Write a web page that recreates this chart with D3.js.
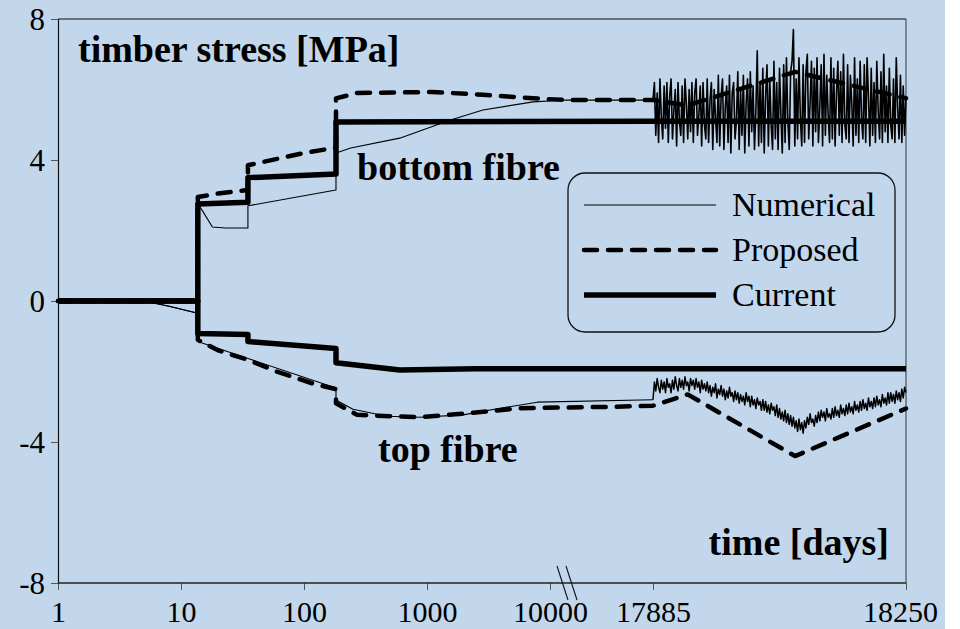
<!DOCTYPE html>
<html>
<head>
<meta charset="utf-8">
<script src="https://cdn.jsdelivr.net/npm/d3@7"></script>
<style>
  html, body { margin: 0; padding: 0; background: #fff; }
  svg { display: block; }
  text { font-family: "Liberation Serif", "Times New Roman", serif; fill: #000; }
</style>
</head>
<body>
<svg id="chart"></svg>
<script>
// ---- data (time in days, stress in MPa) ----
const yTicks = [-8, -4, 0, 4, 8];
const xTicksLog = [1, 10, 100, 1000, 10000];
const xTicksLin = [17885, 18250];

// current model
const curBotT = [1, 13.7, 13.7, 35, 35, 182, 182, 17885, 18250];
const curBot  = [0, 0, 2.75, 2.8, 3.5, 3.6, 5.08, 5.1, 5.1];
const curTopT = [1, 13.7, 13.7, 35, 35, 182, 182, 600, 2500, 17885, 18250];
const curTop  = [0, 0, -0.92, -0.95, -1.15, -1.35, -1.75, -1.96, -1.92, -1.92, -1.92];

// proposed model
const propBotT = [1, 13.7, 13.7, 20, 35, 35, 100, 182, 182, 270, 1100, 2850, 7300, 11300, 17885, 17935, 18090, 18250];
const propBot  = [0, 0, 2.95, 3.05, 3.15, 3.85, 4.2, 4.35, 5.75, 5.9, 5.93, 5.85, 5.75, 5.7, 5.7, 5.55, 6.5, 5.75];
const propTopT = [1, 13.7, 13.7, 20, 35, 60, 120, 182, 182, 270, 870, 2240, 5660, 15000, 17885, 17935, 18090, 18250];
const propTop  = [0, 0, -1.1, -1.4, -1.67, -2.0, -2.35, -2.5, -2.9, -3.23, -3.3, -3.18, -3.04, -3.0, -2.97, -2.65, -4.4, -3.05];

// numerical model, first part
const numBotT = [1, 2, 5, 8, 13.7, 13.7, 15, 18, 23, 35, 35, 182, 182, 240, 600, 1530, 2850, 7300, 11300, 17885];
const numBot  = [0.05, 0.03, 0, -0.15, -0.35, 2.75, 2.55, 2.1, 2.07, 2.07, 2.7, 3.15, 4.2, 4.34, 4.62, 5.13, 5.42, 5.65, 5.7, 5.7];
const numTopT = [1, 2, 5, 8, 13.7, 13.7, 35, 182, 182, 250, 473, 877, 1970, 4130, 7870, 17885];
const numTop  = [0.05, 0.03, 0, -0.15, -0.35, -1.15, -1.63, -2.47, -2.81, -3.07, -3.27, -3.3, -3.23, -3.03, -2.87, -2.8];

// numerical model, last year (daily cycles, every 2nd day from 17885 to 18250)
const numBotLast = [
  5.7, 6.2, 4.7, 5.9, 4.5, 6.3, 5.2, 4.6, 6.1, 4.9,
  6.2, 4.5, 5.8, 6.3, 4.6, 5.4, 6.0, 4.4, 6.2, 5.1,
  4.7, 6.1, 4.5, 6.3, 5.6, 4.6, 6.0, 4.8, 6.2, 4.5,
  5.9, 6.3, 4.7, 5.3, 6.1, 4.4, 6.2, 5.0, 4.6, 6.3,
  4.5, 5.7, 6.2, 4.3, 6.0, 5.2, 4.5, 6.4, 4.4, 5.8,
  6.3, 4.3, 5.5, 6.1, 4.5, 6.4, 4.2, 5.9, 6.2, 4.6,
  5.1, 6.5, 4.3, 6.0, 4.7, 6.4, 4.2, 5.6, 6.3, 4.4,
  6.5, 4.8, 6.1, 4.3, 5.4, 7.1, 4.4, 6.2, 4.5, 6.6,
  4.2, 5.8, 6.7, 4.4, 6.3, 5.0, 4.3, 6.8, 4.6, 6.2,
  4.3, 6.6, 5.3, 4.2, 6.7, 4.5, 6.9, 5.1, 4.3, 6.5,
  6.8, 7.7, 4.4, 6.3, 4.6, 6.9, 5.2, 4.4, 6.7, 4.5,
  6.5, 7.0, 4.6, 5.6, 6.8, 4.4, 6.6, 4.8, 6.9, 4.5,
  5.5, 6.7, 4.4, 7.0, 4.7, 6.4, 5.3, 4.5, 6.9, 4.6,
  6.6, 4.4, 5.9, 6.8, 4.7, 6.5, 4.5, 7.0, 5.0, 4.6,
  6.7, 4.5, 6.4, 5.6, 4.4, 6.9, 4.7, 6.3, 4.5, 6.8,
  5.2, 4.6, 6.7, 4.5, 6.9, 5.8, 4.4, 6.6, 4.7, 6.2,
  4.5, 6.8, 5.4, 4.6, 6.5, 4.5, 7.0, 4.8, 6.1, 4.5,
  6.6, 5.0, 4.6, 6.3, 4.5, 6.9, 5.5, 4.6, 6.4, 4.5,
  6.1, 4.7, 5.8
];
const numTopLast = [
  -2.8, -2.3, -2.55, -2.2, -2.45, -2.6, -2.25, -2.5, -2.3, -2.6,
  -2.2, -2.45, -2.35, -2.6, -2.25, -2.5, -2.15, -2.4, -2.55, -2.2,
  -2.45, -2.25, -2.5, -2.15, -2.4, -2.3, -2.55, -2.2, -2.4, -2.25,
  -2.5, -2.2, -2.45, -2.3, -2.6, -2.25, -2.5, -2.35, -2.55, -2.3,
  -2.6, -2.4, -2.7, -2.45, -2.6, -2.35, -2.75, -2.5, -2.65, -2.4,
  -2.7, -2.5, -2.8, -2.55, -2.75, -2.45, -2.7, -2.6, -2.85, -2.55,
  -2.8, -2.6, -2.9, -2.65, -2.85, -2.7, -2.95, -2.6, -2.85, -2.7,
  -3.0, -2.7, -2.95, -2.8, -3.05, -2.75, -2.95, -2.85, -3.1, -2.8,
  -3.1, -2.85, -3.15, -2.95, -3.2, -2.9, -3.1, -3.0, -3.25, -2.95,
  -3.3, -3.05, -3.35, -3.15, -3.4, -3.1, -3.45, -3.2, -3.5, -3.25,
  -3.55, -3.3, -3.6, -3.4, -3.7, -3.35, -3.65, -3.45, -3.75, -3.4,
  -3.6, -3.3, -3.5, -3.2, -3.45, -3.35, -3.55, -3.25, -3.45, -3.15,
  -3.4, -3.1, -3.3, -3.15, -3.4, -3.05, -3.3, -3.2, -3.35, -3.05,
  -3.3, -3.0, -3.25, -3.1, -3.3, -2.95, -3.2, -3.05, -3.25, -2.95,
  -3.2, -2.9, -3.15, -3.0, -3.2, -2.85, -3.1, -2.95, -3.15, -2.85,
  -3.1, -2.8, -3.05, -2.9, -3.1, -2.75, -3.0, -2.85, -3.05, -2.75,
  -3.0, -2.7, -2.95, -2.8, -3.0, -2.65, -2.9, -2.75, -2.95, -2.6,
  -2.9, -2.6, -2.85, -2.65, -2.9, -2.55, -2.8, -2.6, -2.85, -2.5,
  -2.75, -2.45, -2.6
];

const legendItems = ["Numerical", "Proposed", "Current"];

// ---- layout ----
const W = 960, H = 629;
const mLeft = 58, mRight = 906, mTop = 19, mBottom = 583;
const xBreak = 550, xSeg2 = 653;
const serif = '"Liberation Serif", "Times New Roman", serif';

const svg = d3.select("#chart").attr("width", W).attr("height", H);

svg.append("rect").attr("x", 0).attr("y", 0).attr("width", 945).attr("height", H)
    .attr("fill", "#c2d7eb");

const y = d3.scaleLinear().domain([-8, 8]).range([mBottom, mTop]);
const xLog = d3.scaleLog().domain([1, 10000]).range([mLeft, xBreak]);
const xGap = d3.scaleLinear().domain([10000, 17885]).range([xBreak, xSeg2]);
const xLin = d3.scaleLinear().domain([17885, 18250]).range([xSeg2, mRight]);
const xPos = t => t <= 10000 ? xLog(t) : (t <= 17885 ? xGap(t) : xLin(t));

// frame: top and right borders
svg.append("line").attr("x1", mLeft).attr("x2", mRight).attr("y1", mTop).attr("y2", mTop)
    .attr("stroke", "#4a4f57").attr("stroke-width", 1.5);
svg.append("line").attr("x1", mRight).attr("x2", mRight).attr("y1", mTop).attr("y2", mBottom)
    .attr("stroke", "#4a4f57").attr("stroke-width", 1.2);

// y axis
const yAxis = svg.append("g").attr("transform", `translate(${mLeft},0)`)
    .call(d3.axisLeft(y).tickValues(yTicks).tickFormat(d => String(d))
      .tickSize(7).tickPadding(6).tickSizeOuter(0));
yAxis.select(".domain").attr("stroke", "#111").attr("stroke-width", 1.2);
yAxis.selectAll(".tick line").attr("stroke", "#555");
yAxis.selectAll("text").style("font-size", "31px").style("font-family", serif).attr("dy", "0.34em");

// x axis (log part + last year)
const xAxis1 = svg.append("g").attr("transform", `translate(0,${mBottom})`)
    .call(d3.axisBottom(xLog).tickValues(xTicksLog).tickFormat(d => String(d)).tickSize(7).tickPadding(11));
const xAxis2 = svg.append("g").attr("transform", `translate(0,${mBottom})`)
    .call(d3.axisBottom(xLin).tickValues(xTicksLin).tickFormat(d => String(d)).tickSize(7).tickPadding(11));
[xAxis1, xAxis2].forEach(g => {
  g.select(".domain").remove();
  g.selectAll(".tick line").attr("stroke", "#555");
  g.selectAll("text").style("font-size", "30px").style("font-family", serif);
});
xAxis2.selectAll(".tick text").filter(d => d === 18250).attr("dx", -6);
svg.append("line").attr("x1", mLeft).attr("x2", mRight).attr("y1", mBottom).attr("y2", mBottom)
    .attr("stroke", "#222").attr("stroke-width", 1.3);

// axis break marks
[0, 9].forEach(dx => {
  svg.append("line")
      .attr("x1", 557 + dx).attr("y1", 566).attr("x2", 568 + dx).attr("y2", 600)
      .attr("stroke", "#111").attr("stroke-width", 1.1);
});

// ---- lines ----
const line = d3.line().x(d => xPos(d[0])).y(d => y(d[1]));
const lastDays = arr => arr.map((v, i) => 17885 + i * 365 / (arr.length - 1));

const styles = {
  Numerical: { w: 1.1, dash: null },
  Proposed: { w: 4.5, dash: "13,11" },
  Current: { w: 5.5, dash: null }
};

// numerical last-year cycles are drawn a bit heavier, as in the original print
const series = [
  { key: "Current", pts: d3.zip(curBotT, curBot) },
  { key: "Current", pts: d3.zip(curTopT, curTop) },
  { key: "Proposed", pts: d3.zip(propBotT, propBot) },
  { key: "Proposed", pts: d3.zip(propTopT, propTop) },
  { key: "Numerical", pts: d3.zip(numBotT, numBot) },
  { key: "Numerical", pts: d3.zip(numTopT, numTop) },
  { key: "Numerical", w: 1.6, pts: d3.zip(lastDays(numBotLast), numBotLast) },
  { key: "Numerical", w: 1.5, pts: d3.zip(lastDays(numTopLast), numTopLast) }
];

svg.append("g").selectAll("path")
    .data(series)
    .enter()
    .append("path")
    .attr("d", d => line(d.pts))
    .attr("fill", "none")
    .attr("stroke", "#000")
    .attr("stroke-width", d => d.w || styles[d.key].w)
    .attr("stroke-dasharray", d => styles[d.key].dash)
    .attr("stroke-linecap", d => d.key === "Proposed" ? "round" : "butt")
    .attr("stroke-linejoin", "round");

// ---- labels ----
const bold = (txt, x, yy, anchor) => svg.append("text")
    .attr("x", x).attr("y", yy).attr("text-anchor", anchor || "start")
    .style("font-size", "38px").style("font-weight", "bold").text(txt);
bold("timber stress [MPa]", 78, 62);
bold("bottom fibre", 357, 180);
bold("top fibre", 378, 462);
bold("time [days]", 889, 555, "end");

// ---- legend ----
const lg = svg.append("g");
lg.append("rect").attr("x", 568).attr("y", 173).attr("width", 327).attr("height", 159).attr("rx", 17)
    .attr("fill", "none").attr("stroke", "#111").attr("stroke-width", 1.3);
legendItems.forEach((k, i) => {
  const yy = 205 + i * 45;
  lg.append("line").attr("x1", 584).attr("x2", 716).attr("y1", yy).attr("y2", yy)
      .attr("stroke", "#000").attr("stroke-width", k === "Numerical" ? 1 : styles[k].w)
      .attr("stroke-dasharray", styles[k].dash)
      .attr("stroke-linecap", k === "Proposed" ? "round" : "butt");
  lg.append("text").attr("x", 732).attr("y", yy).attr("dy", "0.33em")
      .style("font-size", "34px").text(k);
});
</script>
</body>
</html>
